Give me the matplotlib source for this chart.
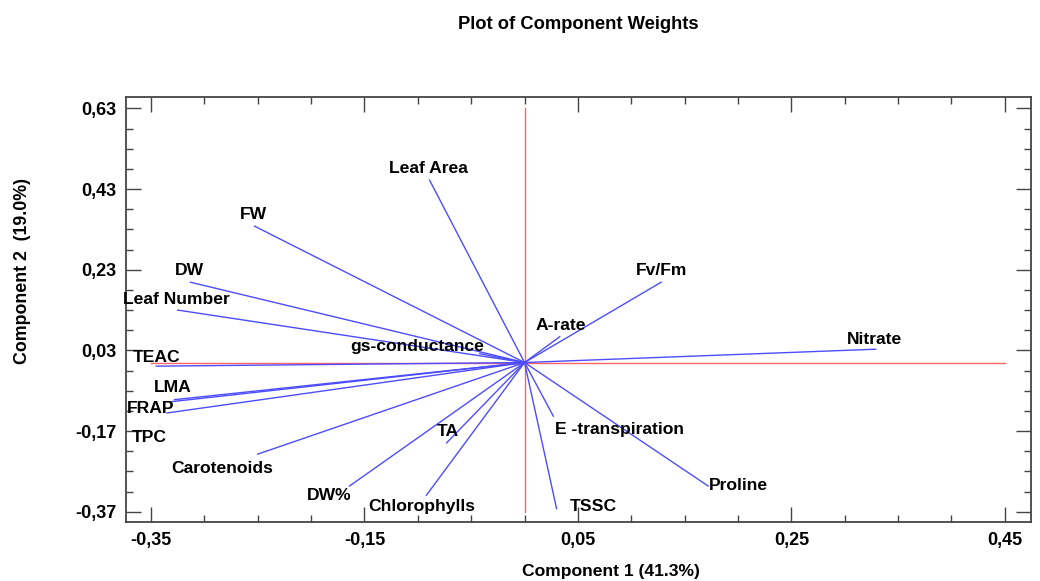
import numpy as np
from matplotlib import pyplot as plt
from matplotlib.ticker import FixedLocator, FuncFormatter

plt.rcParams['font.family'] = ['Liberation Sans', 'DejaVu Sans']
plt.rcParams['font.weight'] = 'bold'

# component weights
variables = ["Leaf Area", "FW", "DW", "Leaf Number", "TEAC", "LMA", "FRAP", "TPC",
             "Carotenoids", "DW%", "Chlorophylls", "TA", "gs-conductance", "A-rate",
             "Fv/Fm", "Nitrate", "E -transpiration", "Proline", "TSSC"]
comp1 = [-0.089, -0.253, -0.313, -0.325, -0.345, -0.328, -0.331, -0.335,
         -0.250, -0.164, -0.092, -0.073, -0.042, 0.033,
         0.128, 0.329, 0.027, 0.172, 0.030]
comp2 = [0.452, 0.338, 0.199, 0.130, -0.009, -0.092, -0.097, -0.125,
         -0.227, -0.306, -0.329, -0.199, 0.022, 0.064,
         0.199, 0.033, -0.133, -0.306, -0.362]

# where each label sits (left edge, vertical centre)
label_x = [-0.127, -0.267, -0.328, -0.376, -0.367, -0.347, -0.3725, -0.368,
           -0.331, -0.204, -0.146, -0.082, -0.163, 0.010,
           0.104, 0.302, 0.0285, 0.173, 0.0425]
label_y = [0.482, 0.368, 0.227, 0.157, 0.012, -0.063, -0.1145, -0.185,
           -0.262, -0.3285, -0.356, -0.172, 0.039, 0.093,
           0.229, 0.058, -0.167, -0.304, -0.358]

fig = plt.figure(figsize=(10.4, 5.81), dpi=100)
ax = fig.add_axes([0.1212, 0.101, 0.870, 0.732])

ax.plot([-0.35, 0.45], [0, 0], color='#ff6464', lw=1.0, zorder=1)
ax.plot([0, 0], [-0.37, 0.63], color='#ff6464', lw=1.0, zorder=1)

for i in range(len(variables)):
    ax.plot([0, comp1[i]], [0, comp2[i]], color='#4d4dff', lw=1.0, zorder=2)
    ax.text(label_x[i], label_y[i], variables[i], ha='left', va='center',
            fontsize=12.6, fontweight='bold', clip_on=False, zorder=3)

ax.set_xlim(-0.3734, 0.4744)
ax.set_ylim(-0.396, 0.658)

ax.xaxis.set_major_locator(FixedLocator([-0.35, -0.15, 0.05, 0.25, 0.45]))
ax.xaxis.set_minor_locator(FixedLocator(np.arange(-0.35, 0.46, 0.05)))
ax.yaxis.set_major_locator(FixedLocator([-0.37, -0.17, 0.03, 0.23, 0.43, 0.63]))
ax.yaxis.set_minor_locator(FixedLocator(np.arange(-0.37, 0.64, 0.05)))
fmt = FuncFormatter(lambda v, p: ("%.2f" % v).replace('.', ','))
ax.xaxis.set_major_formatter(fmt)
ax.yaxis.set_major_formatter(fmt)
ax.tick_params(which='both', direction='in', top=True, right=True,
               color='#444444', labelsize=13, width=1.0)
ax.tick_params(which='major', length=11, pad=7)
ax.tick_params(which='minor', length=5)
for lab in ax.get_xticklabels() + ax.get_yticklabels():
    lab.set_fontweight('bold')
for s in ax.spines.values():
    s.set_color('#444444')
    s.set_linewidth(1.3)

fig.text(0.556, 0.958, "Plot of Component Weights", ha='center', va='center',
         fontsize=13.2, fontweight='bold')
fig.text(0.587, 0.016, "Component 1 (41.3%)", ha='center', va='center',
         fontsize=12.6, fontweight='bold')
fig.text(0.022, 0.533, "Component 2  (19.0%)", ha='center', va='center',
         rotation=90, fontsize=12.8, fontweight='bold')

plt.savefig("out.png", dpi=100)
